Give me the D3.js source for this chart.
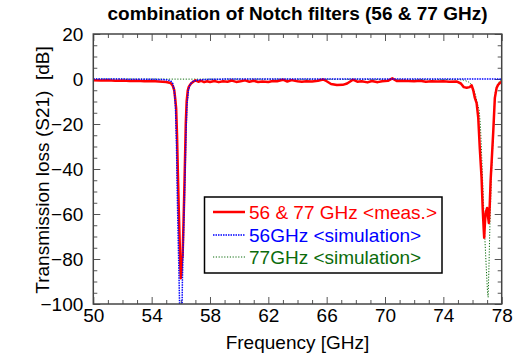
<!DOCTYPE html>
<html>
<head>
<meta charset="utf-8">
<script src="https://cdn.jsdelivr.net/npm/d3@7"></script>
<style>
  body { margin: 0; background: #fff; }
  svg { display: block; font-family: Arial, "Liberation Sans", sans-serif; }
</style>
</head>
<body>
<svg id="chart" width="519" height="356"></svg>
<script>
// measured (56 & 77 GHz notch filters)
const measFreq = [50.0, 50.5, 51.0, 51.5, 52.0, 52.5, 53.0, 53.5, 54.0, 54.5, 55.0, 55.3, 55.45, 55.55, 55.62, 55.68, 55.74, 55.8, 55.86, 55.92, 55.97, 56.0, 56.04, 56.08, 56.12, 56.16, 56.22, 56.28, 56.34, 56.4, 56.48, 56.55, 56.7, 56.85, 57.0, 57.2, 57.4, 57.6, 57.8, 58.0, 58.3, 58.6, 58.9, 59.2, 59.5, 59.8, 60.1, 60.4, 60.7, 61.0, 61.3, 61.6, 62.0, 62.3, 62.6, 63.0, 63.3, 63.6, 64.0, 64.3, 64.6, 65.0, 65.4, 65.75, 66.0, 66.3, 66.7, 67.1, 67.4, 67.8, 68.1, 68.4, 68.8, 69.1, 69.5, 69.8, 70.2, 70.5, 70.8, 71.2, 71.6, 72.0, 72.4, 72.8, 73.2, 73.6, 74.0, 74.4, 74.9, 75.2, 75.4, 75.6, 75.8, 75.94, 76.05, 76.16, 76.28, 76.39, 76.5, 76.62, 76.7, 76.76, 76.8, 76.85, 76.9, 77.0, 77.06, 77.12, 77.18, 77.24, 77.3, 77.42, 77.53, 77.65, 77.75, 77.87, 78.0]
const measDb = [-0.6, -0.7, -0.6, -0.8, -0.7, -0.9, -0.8, -1.0, -0.9, -1.1, -1.3, -1.8, -3.0, -5, -9, -13, -25, -42, -58, -72, -84, -88.5, -86, -80, -79, -70, -55, -38, -20, -10, -5, -3.4, -2.0, -1.2, -0.6, -1.2, -0.8, -1.4, -1.0, -1.3, -0.9, -1.4, -1.0, -1.2, -0.7, -1.3, -1.0, -0.6, -1.2, -0.8, -1.3, -1.1, -1.3, -0.9, -1.0, -0.3, -1.1, -0.5, -1.0, -1.2, -1.0, -1.1, -0.8, -0.2, -1.0, -2.2, -2.7, -2.6, -2.0, -0.3, -1.2, -1.0, -1.5, -0.9, -1.4, -1.0, -0.8, 0.3, -0.9, -0.8, -0.9, -1.0, -0.8, -1.2, -1.0, -1.1, -1.0, -1.2, -1.1, -2.0, -3.6, -3.9, -3.6, -2.8, -5, -8.4, -10.7, -17, -31, -44, -58, -66, -70.5, -64, -59.5, -57.3, -61, -64, -56, -45, -38, -23.5, -8.4, -4, -2.6, -1.8, -1.2]

// simulation, 56 GHz filter
const sim56Freq = [50, 54, 55.0, 55.3, 55.45, 55.55, 55.63, 55.7, 55.74, 55.8, 55.88, 55.93, 56.0, 56.08, 56.11, 56.2, 56.28, 56.35, 56.42, 56.52, 56.65, 56.85, 57.2, 58, 60, 78]
const sim56Db = [0, -0.1, -0.3, -0.8, -2, -5, -11.6, -28, -45, -65, -89, -105, -120, -105, -89, -65, -45, -25, -11.6, -5, -2.2, -1, -0.4, -0.1, 0, 0]

// simulation, 77 GHz filter
const sim77Freq = [50, 75.0, 75.4, 75.7, 75.9, 76.04, 76.2, 76.3, 76.46, 76.55, 76.65, 76.75, 76.85, 76.95, 77.03, 77.07, 77.12, 77.19, 77.3, 77.42, 77.5, 77.56, 77.65, 77.87, 78.0]
const sim77Db = [0, -0.2, -0.5, -1.2, -2.2, -4, -7, -10, -14, -22, -38, -55, -71.5, -85, -95, -97, -85, -65.6, -42, -25, -12, -6, -3.4, -0.7, -0.4]

const xMajor = [50, 54, 58, 62, 66, 70, 74, 78]
const yMajor = [20, 0, -20, -40, -60, -80, -100]

const legendLabels = ["56 & 77 GHz <meas.>", "56GHz <simulation>", "77GHz <simulation>"]

const svg = d3.select("#chart")
const mLeft = 93.3, mRight = 501.7, mTop = 34, mBottom = 304

const x = d3.scaleLinear().domain([50, 78]).range([mLeft, mRight])
const y = d3.scaleLinear().domain([-100, 20]).range([mBottom, mTop])

const xMinor = d3.range(50, 78.01, 1).filter(v => !xMajor.includes(v))
const yMinor = d3.range(-100, 20.01, 5).filter(v => !yMajor.includes(v))

// ticks on all four sides, pointing inwards
const addAxis = (axisFn, scale, vals, size, pos, labels, pad) => {
    const ax = axisFn(scale).tickValues(vals).tickSize(-size).tickPadding(pad || 3)
    if (!labels) ax.tickFormat("")
    const g = svg.append("g").attr("transform", pos).call(ax)
    g.select(".domain").remove()
    g.selectAll("line").attr("stroke", "#555").attr("stroke-width", 1)
    g.selectAll("text").attr("fill", "#000").style("font-size", "19px").style("font-family", "Arial, 'Liberation Sans', sans-serif")
    return g
}
addAxis(d3.axisBottom, x, xMajor, 7, `translate(0,${mBottom})`, true, 4.5)
addAxis(d3.axisBottom, x, xMinor, 4, `translate(0,${mBottom})`, false)
addAxis(d3.axisTop, x, xMajor, 7, `translate(0,${mTop})`, false)
addAxis(d3.axisTop, x, xMinor, 4, `translate(0,${mTop})`, false)
addAxis(d3.axisLeft, y, yMajor, 7, `translate(${mLeft},0)`, true, 10)
addAxis(d3.axisLeft, y, yMinor, 4, `translate(${mLeft},0)`, false)
addAxis(d3.axisRight, y, yMajor, 7, `translate(${mRight},0)`, false)
addAxis(d3.axisRight, y, yMinor, 4, `translate(${mRight},0)`, false)

svg.append("clipPath").attr("id", "clip")
    .append("rect").attr("x", mLeft).attr("y", mTop).attr("width", mRight - mLeft).attr("height", mBottom - mTop)

const line = d3.line().x(d => x(d[0])).y(d => y(d[1]))
const plot = svg.append("g").attr("clip-path", "url(#clip)")

plot.append("path")
    .datum(d3.zip(sim77Freq, sim77Db))
    .attr("d", line)
    .attr("fill", "none")
    .attr("stroke", "#0b6b0b")
    .attr("stroke-width", 1)
    .attr("stroke-dasharray", "1.2,1.6")

plot.append("path")
    .datum(d3.zip(measFreq, measDb))
    .attr("d", line)
    .attr("fill", "none")
    .attr("stroke", "#ff0000")
    .attr("stroke-width", 2.5)
    .attr("stroke-linejoin", "round")

plot.append("path")
    .datum(d3.zip(sim56Freq, sim56Db))
    .attr("d", line)
    .attr("fill", "none")
    .attr("stroke", "#0000ff")
    .attr("stroke-width", 1.5)
    .attr("stroke-dasharray", "1.5,1")

// frame
svg.append("rect")
    .attr("x", mLeft).attr("y", mTop)
    .attr("width", mRight - mLeft).attr("height", mBottom - mTop)
    .attr("fill", "none").attr("stroke", "#444").attr("stroke-width", 1.5)

// title + axis titles
svg.append("text")
    .attr("x", (mLeft + mRight) / 2).attr("y", 19.5)
    .attr("text-anchor", "middle")
    .style("font-size", "19px").style("font-weight", "bold")
    .text("combination of Notch filters (56 & 77 GHz)")

svg.append("text")
    .attr("x", (mLeft + mRight) / 2).attr("y", 348.5)
    .attr("text-anchor", "middle")
    .style("font-size", "19px")
    .text("Frequency [GHz]")

svg.append("text")
    .attr("transform", "translate(49,170) rotate(-90)")
    .attr("text-anchor", "middle")
    .style("font-size", "19px")
    .style("white-space", "pre")
    .text("Transmission loss (S21)  [dB]")

// legend
const legend = svg.append("g")
legend.append("rect")
    .attr("x", 204.5).attr("y", 197)
    .attr("width", 237.5).attr("height", 76)
    .attr("fill", "#fff").attr("stroke", "#000").attr("stroke-width", 1.5)

const legendColors = ["#ff0000", "#0000ff", "#0b6b0b"]
const legendDash = [null, "1.5,1", "1.2,1.6"]
const legendWidth = [2.5, 1.5, 1]
const legendY = [212, 235, 257]

legendLabels.forEach((lab, i) => {
    legend.append("line")
        .attr("x1", 213).attr("x2", 245)
        .attr("y1", legendY[i]).attr("y2", legendY[i])
        .attr("stroke", legendColors[i])
        .attr("stroke-width", legendWidth[i])
        .attr("stroke-dasharray", legendDash[i])
    legend.append("text")
        .attr("x", 249).attr("y", legendY[i])
        .attr("dy", "0.35em")
        .attr("fill", legendColors[i])
        .style("font-size", "19px")
        .text(lab)
})
</script>
</body>
</html>
